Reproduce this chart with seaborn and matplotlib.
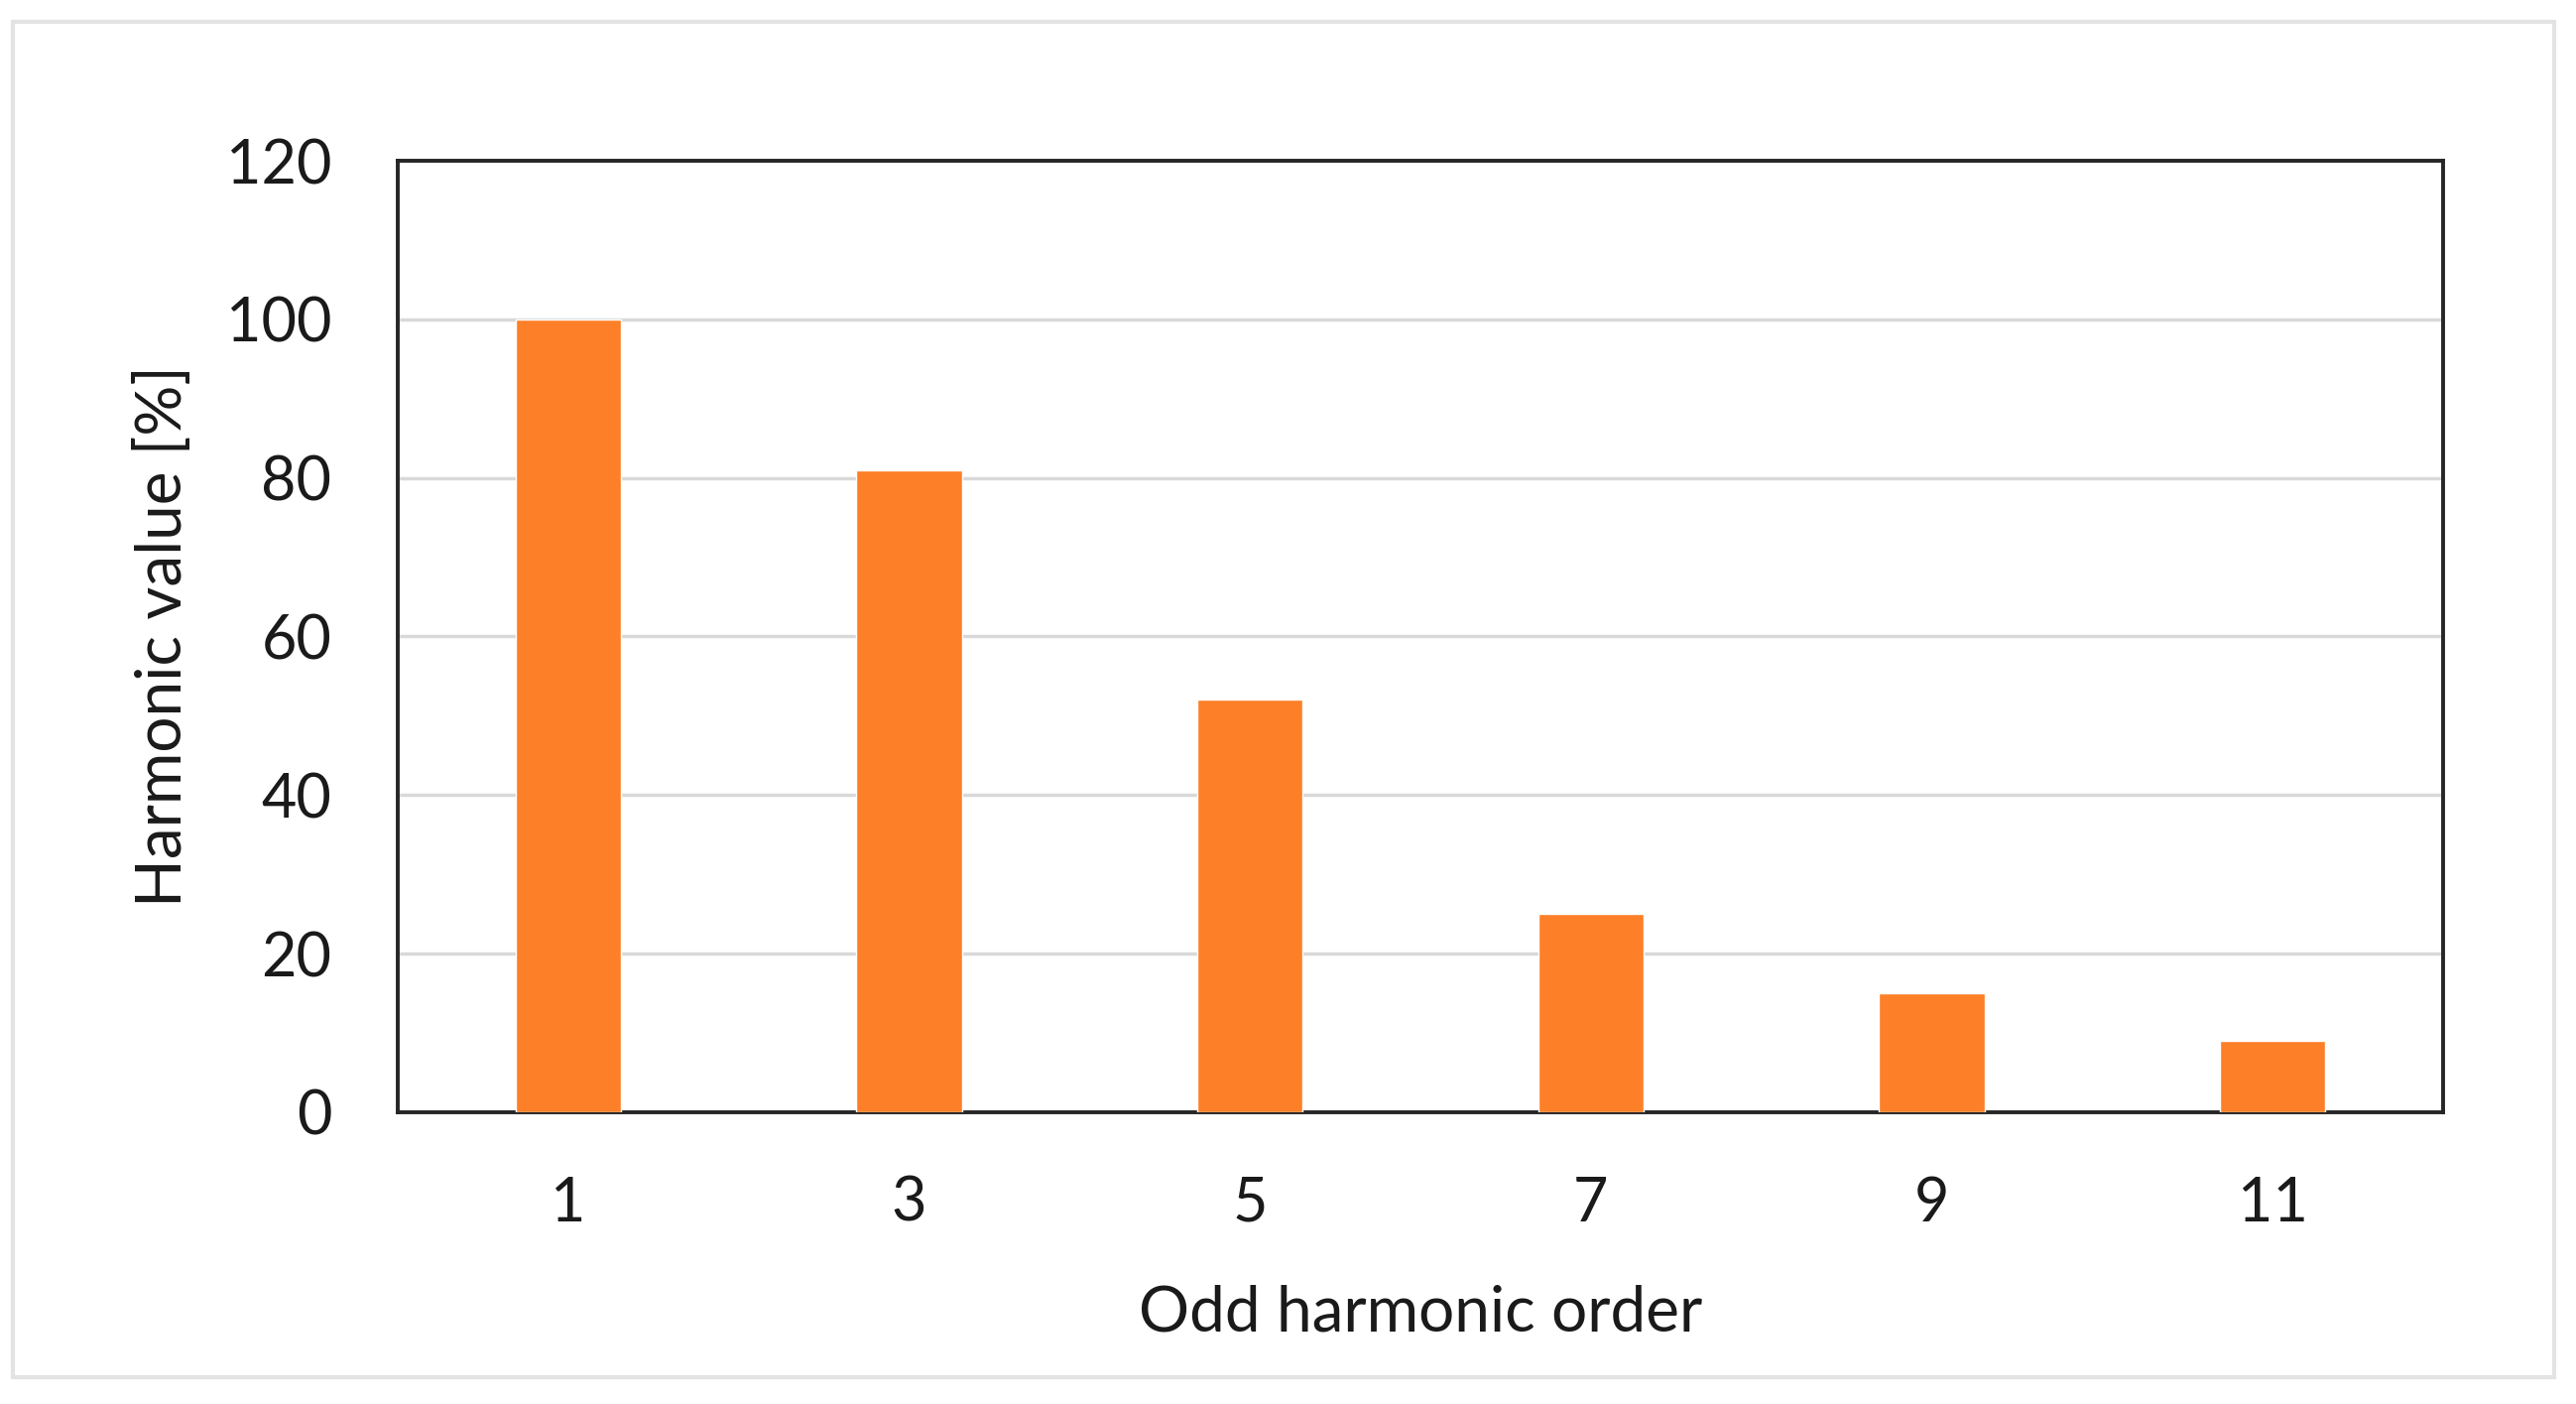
import pandas as pd
import matplotlib.pyplot as plt
import seaborn as sns
from matplotlib.patches import Rectangle

sns.set_theme(style="white")
plt.rcParams['font.family'] = ['Lato', 'DejaVu Sans']

# -------- DATA --------
orders = ["1", "3", "5", "7", "9", "11"]
values = [100, 81, 52, 25, 15, 9]
y_ticks = [0, 20, 40, 60, 80, 100, 120]

df = pd.DataFrame({"order": orders, "value": values})

# -------- PLOT --------
fig = plt.figure(figsize=(25.97, 14.15), dpi=100)
ax = fig.add_axes([0.1544, 0.2078, 0.7940, 0.6777])

sns.barplot(data=df, x="order", y="value", color="#FD7F27",
            saturation=1, width=0.31, ax=ax, zorder=3)

ax.set_xlim(-0.5, 5.5)
ax.set_ylim(0, 120)
ax.set_yticks(y_ticks)
ax.yaxis.grid(True, color="#D9D9D9", linewidth=2.5, zorder=0)
ax.set_axisbelow(True)

for s in ax.spines.values():
    s.set_visible(True)
    s.set_color("#262626")
    s.set_linewidth(2.8)

ax.tick_params(axis="both", length=0, labelsize=44, colors="#1a1a1a")
ax.tick_params(axis="y", pad=48)
ax.tick_params(axis="x", pad=46)

ax.set_xlabel("Odd harmonic order", fontsize=46, color="#1a1a1a", labelpad=38)
ax.set_ylabel("Harmonic value [%]", fontsize=46, color="#1a1a1a", labelpad=24)

# light grey outer frame
fig.patches.append(Rectangle((13 / 2597, 1 - 1388 / 1415), (2575 - 13) / 2597,
                             (1388 - 22) / 1415, transform=fig.transFigure,
                             fill=False, edgecolor="#E3E3E3", linewidth=3))

fig.savefig("out.png", dpi=100, facecolor="white")
